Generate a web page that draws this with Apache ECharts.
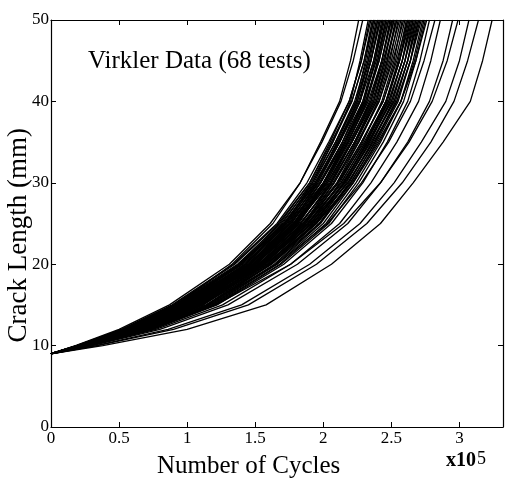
<!DOCTYPE html>
<html>
<head>
<meta charset="utf-8">
<script src="https://cdn.jsdelivr.net/npm/echarts@6/dist/echarts.min.js"></script>
<style>
  html, body { margin: 0; padding: 0; background: #fff; }
  #chart { width: 512px; height: 482px; }
</style>
</head>
<body>
<div id="chart"></div>
<script>
// crack length levels (mm) shared by every test
var crackLength = [9, 10, 12, 15, 20, 25, 30, 35, 40, 45, 50];

// cycles (x10^5) at which each test reached the levels above
var cyclesByTest = [
  [0, 0.20, 0.55, 0.92, 1.33, 1.63, 1.83, 1.98, 2.12, 2.20, 2.26],
  [0, 0.18, 0.50, 0.87, 1.31, 1.61, 1.83, 1.99, 2.13, 2.22, 2.29],
  [0, 0.23, 0.63, 1.03, 1.43, 1.72, 1.92, 2.07, 2.20, 2.27, 2.33],
  [0, 0.21, 0.57, 0.95, 1.38, 1.68, 1.90, 2.05, 2.19, 2.28, 2.34],
  [0, 0.19, 0.52, 0.89, 1.34, 1.66, 1.88, 2.04, 2.19, 2.28, 2.35],
  [0, 0.21, 0.58, 0.96, 1.39, 1.70, 1.91, 2.07, 2.21, 2.30, 2.36],
  [0, 0.24, 0.64, 1.04, 1.46, 1.75, 1.95, 2.10, 2.24, 2.31, 2.37],
  [0, 0.19, 0.52, 0.90, 1.35, 1.67, 1.90, 2.06, 2.21, 2.30, 2.37],
  [0, 0.21, 0.58, 0.96, 1.40, 1.71, 1.93, 2.09, 2.23, 2.32, 2.38],
  [0, 0.24, 0.65, 1.05, 1.47, 1.77, 1.96, 2.12, 2.25, 2.33, 2.39],
  [0, 0.19, 0.53, 0.91, 1.37, 1.69, 1.92, 2.09, 2.24, 2.33, 2.40],
  [0, 0.22, 0.59, 0.97, 1.42, 1.73, 1.94, 2.11, 2.25, 2.34, 2.40],
  [0, 0.24, 0.65, 1.06, 1.48, 1.78, 1.98, 2.14, 2.27, 2.35, 2.41],
  [0, 0.19, 0.53, 0.92, 1.38, 1.71, 1.94, 2.11, 2.26, 2.35, 2.42],
  [0, 0.22, 0.59, 0.98, 1.43, 1.74, 1.96, 2.12, 2.27, 2.35, 2.42],
  [0, 0.24, 0.66, 1.07, 1.49, 1.80, 2.00, 2.16, 2.29, 2.37, 2.43],
  [0, 0.20, 0.54, 0.93, 1.39, 1.72, 1.95, 2.12, 2.27, 2.37, 2.44],
  [0, 0.24, 0.66, 1.07, 1.50, 1.81, 2.01, 2.16, 2.30, 2.38, 2.44],
  [0, 0.22, 0.60, 0.99, 1.45, 1.76, 1.98, 2.15, 2.30, 2.38, 2.45],
  [0, 0.20, 0.54, 0.93, 1.40, 1.73, 1.97, 2.14, 2.29, 2.39, 2.46],
  [0, 0.25, 0.66, 1.08, 1.51, 1.82, 2.02, 2.18, 2.32, 2.40, 2.46],
  [0, 0.22, 0.61, 1.00, 1.46, 1.78, 2.00, 2.17, 2.31, 2.40, 2.47],
  [0, 0.20, 0.55, 0.94, 1.41, 1.75, 1.98, 2.16, 2.31, 2.41, 2.48],
  [0, 0.22, 0.61, 1.00, 1.46, 1.79, 2.01, 2.18, 2.32, 2.41, 2.48],
  [0, 0.25, 0.67, 1.10, 1.53, 1.84, 2.05, 2.21, 2.35, 2.43, 2.49],
  [0, 0.20, 0.55, 0.95, 1.43, 1.76, 2.00, 2.18, 2.33, 2.43, 2.50],
  [0, 0.23, 0.61, 1.01, 1.48, 1.80, 2.03, 2.20, 2.34, 2.43, 2.50],
  [0, 0.25, 0.68, 1.10, 1.54, 1.86, 2.06, 2.23, 2.37, 2.45, 2.51],
  [0, 0.20, 0.55, 0.96, 1.44, 1.78, 2.02, 2.19, 2.35, 2.44, 2.52],
  [0, 0.23, 0.62, 1.02, 1.49, 1.81, 2.04, 2.21, 2.36, 2.45, 2.52],
  [0, 0.25, 0.68, 1.11, 1.56, 1.87, 2.08, 2.24, 2.39, 2.47, 2.53],
  [0, 0.20, 0.56, 0.97, 1.45, 1.79, 2.03, 2.21, 2.37, 2.46, 2.54],
  [0, 0.23, 0.62, 1.03, 1.50, 1.83, 2.06, 2.23, 2.38, 2.47, 2.54],
  [0, 0.26, 0.69, 1.12, 1.57, 1.89, 2.10, 2.26, 2.40, 2.49, 2.55],
  [0, 0.20, 0.56, 0.97, 1.46, 1.80, 2.05, 2.23, 2.39, 2.48, 2.56],
  [0, 0.23, 0.63, 1.04, 1.52, 1.85, 2.08, 2.26, 2.41, 2.50, 2.57],
  [0, 0.26, 0.70, 1.14, 1.59, 1.91, 2.12, 2.29, 2.43, 2.52, 2.58],
  [0, 0.21, 0.57, 0.98, 1.48, 1.83, 2.07, 2.25, 2.41, 2.51, 2.59],
  [0, 0.23, 0.64, 1.05, 1.53, 1.87, 2.11, 2.28, 2.44, 2.53, 2.60],
  [0, 0.26, 0.70, 1.15, 1.61, 1.93, 2.15, 2.32, 2.46, 2.55, 2.61],
  [0, 0.21, 0.58, 1.00, 1.49, 1.85, 2.10, 2.28, 2.44, 2.54, 2.62],
  [0, 0.26, 0.71, 1.15, 1.61, 1.94, 2.15, 2.32, 2.47, 2.56, 2.62],
  [0, 0.24, 0.64, 1.07, 1.55, 1.89, 2.13, 2.31, 2.46, 2.56, 2.63],
  [0, 0.21, 0.58, 1.00, 1.50, 1.86, 2.11, 2.30, 2.46, 2.56, 2.64],
  [0, 0.26, 0.71, 1.16, 1.62, 1.95, 2.17, 2.34, 2.49, 2.58, 2.64],
  [0, 0.24, 0.65, 1.07, 1.56, 1.91, 2.15, 2.33, 2.48, 2.58, 2.65],
  [0, 0.21, 0.59, 1.01, 1.52, 1.88, 2.13, 2.31, 2.48, 2.58, 2.66],
  [0, 0.27, 0.72, 1.17, 1.64, 1.97, 2.19, 2.36, 2.51, 2.60, 2.66],
  [0, 0.24, 0.65, 1.08, 1.58, 1.92, 2.16, 2.34, 2.50, 2.60, 2.67],
  [0, 0.21, 0.59, 1.02, 1.53, 1.89, 2.14, 2.33, 2.50, 2.60, 2.68],
  [0, 0.27, 0.72, 1.18, 1.65, 1.98, 2.20, 2.38, 2.53, 2.62, 2.68],
  [0, 0.24, 0.66, 1.09, 1.59, 1.94, 2.18, 2.36, 2.52, 2.62, 2.69],
  [0, 0.22, 0.59, 1.03, 1.54, 1.90, 2.16, 2.35, 2.52, 2.62, 2.70],
  [0, 0.27, 0.73, 1.19, 1.66, 2.00, 2.22, 2.39, 2.55, 2.64, 2.70],
  [0, 0.24, 0.66, 1.10, 1.60, 1.95, 2.20, 2.38, 2.54, 2.64, 2.71],
  [0, 0.22, 0.60, 1.03, 1.55, 1.92, 2.18, 2.37, 2.54, 2.64, 2.72],
  [0, 0.27, 0.74, 1.20, 1.68, 2.02, 2.24, 2.42, 2.57, 2.66, 2.73],
  [0, 0.25, 0.67, 1.11, 1.62, 1.97, 2.22, 2.41, 2.57, 2.67, 2.74],
  [0, 0.28, 0.74, 1.21, 1.69, 2.04, 2.26, 2.44, 2.59, 2.68, 2.75],
  [0, 0.22, 0.61, 1.05, 1.57, 1.95, 2.21, 2.40, 2.57, 2.68, 2.76],
  [0, 0.28, 0.75, 1.22, 1.71, 2.06, 2.29, 2.47, 2.62, 2.71, 2.78],
  [0, 0.25, 0.69, 1.14, 1.66, 2.03, 2.28, 2.48, 2.64, 2.74, 2.82],
  [0, 0.29, 0.77, 1.26, 1.76, 2.12, 2.35, 2.54, 2.70, 2.79, 2.86],
  [0, 0.30, 0.80, 1.30, 1.81, 2.18, 2.42, 2.62, 2.78, 2.88, 2.95],
  [0, 0.27, 0.73, 1.21, 1.76, 2.15, 2.42, 2.63, 2.80, 2.91, 2.99],
  [0, 0.33, 0.86, 1.40, 1.90, 2.27, 2.52, 2.72, 2.90, 3.00, 3.07],
  [0, 0.34, 0.90, 1.45, 1.95, 2.32, 2.58, 2.79, 2.96, 3.06, 3.14],
  [0, 0.38, 1.00, 1.58, 2.06, 2.42, 2.66, 2.88, 3.08, 3.17, 3.24]
];

var xTicks = [0, 0.5, 1, 1.5, 2, 2.5, 3];
var yTicks = [0, 10, 20, 30, 40, 50];

var serif = '"Liberation Serif", "DejaVu Serif", serif';
var ink = '#000';

var chart = echarts.init(document.getElementById('chart'), null, { renderer: 'canvas' });

var series = cyclesByTest.map(function (cyc, k) {
  return {
    name: 'test ' + (k + 1),
    type: 'line',
    data: crackLength.map(function (a, i) { return [cyc[i], a]; }),
    showSymbol: false,
    silent: true,
    lineStyle: { color: ink, width: 1.3 },
    z: 2
  };
});

function axisBase(show) {
  return {
    type: 'value',
    axisLine: { show: true, onZero: false, lineStyle: { color: ink, width: 1.2 } },
    axisTick: { show: true, inside: true, length: 5, lineStyle: { color: ink, width: 1 } },
    splitLine: { show: false },
    axisLabel: { show: show, color: ink, fontFamily: serif, fontSize: 17 }
  };
}

var xBottom = axisBase(true);
xBottom.min = 0; xBottom.max = 3.32; xBottom.interval = 0.5;
xBottom.position = 'bottom';
xBottom.axisLabel.margin = 3;
xBottom.axisLabel.showMaxLabel = false;
xBottom.axisLabel.formatter = function (v) {
  return xTicks.indexOf(v) >= 0 ? String(v) : '';
};
var xTop = axisBase(false);
xTop.min = 0; xTop.max = 3.32; xTop.interval = 0.5;
xTop.position = 'top';

var yLeft = axisBase(true);
yLeft.min = 0; yLeft.max = 50; yLeft.interval = 10;
yLeft.position = 'left';
yLeft.axisLabel.margin = 2;
yLeft.axisLabel.formatter = function (v) {
  return yTicks.indexOf(v) >= 0 ? String(v) : '';
};
var yRight = axisBase(false);
yRight.min = 0; yRight.max = 50; yRight.interval = 10;
yRight.position = 'right';

chart.setOption({
  animation: false,
  backgroundColor: '#fff',
  grid: { left: 51, right: 9, top: 20, bottom: 55 },
  xAxis: [xBottom, xTop],
  yAxis: [yLeft, yRight],
  series: series,
  graphic: [
    {
      type: 'text', left: 88, top: 49,
      style: { text: 'Virkler Data (68 tests)', font: '25px ' + serif, fill: ink }
    },
    {
      type: 'text', left: 5, top: 128, rotation: Math.PI / 2,
      style: { text: 'Crack Length (mm)', font: '27px ' + serif, fill: ink }
    },
    {
      type: 'text', left: 157, top: 454,
      style: { text: 'Number of Cycles', font: '25px ' + serif, fill: ink }
    },
    {
      type: 'text', left: 446, top: 450,
      style: {
        text: 'x10{s|5}',
        font: 'bold 20px ' + serif, fill: ink,
        rich: { s: { font: '18px ' + serif, fill: ink, padding: [0, 0, 3, 1] } }
      }
    }
  ]
});
window.addEventListener('resize', function () { chart.resize(); });
</script>
</body>
</html>
